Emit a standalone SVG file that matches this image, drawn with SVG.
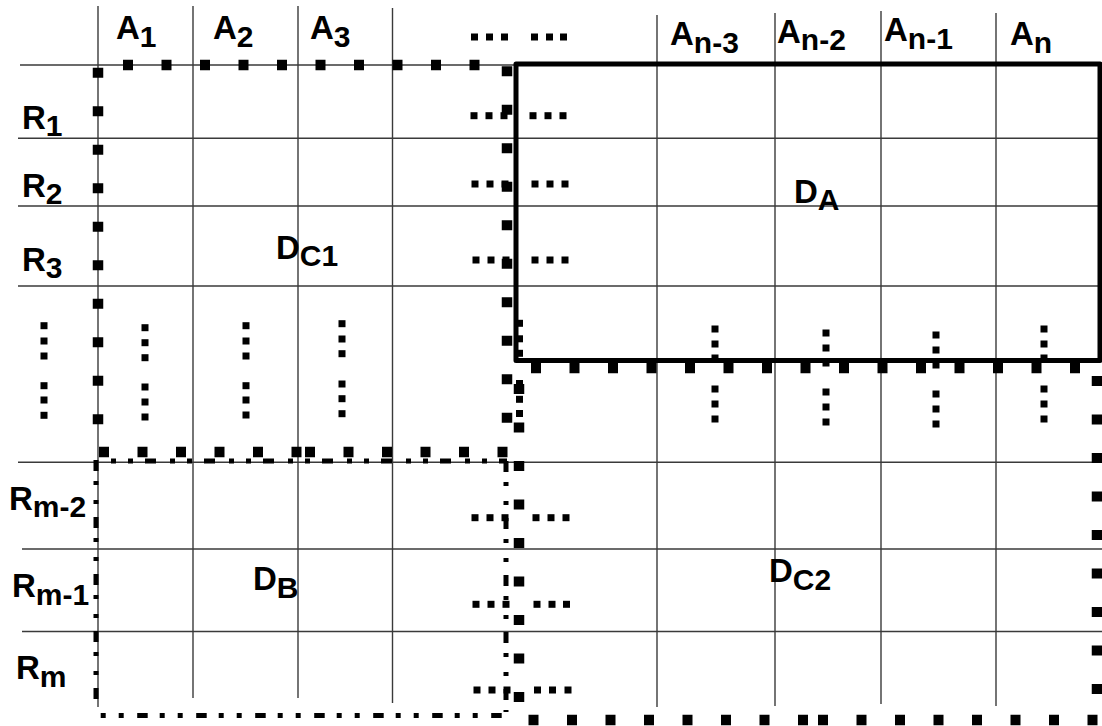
<svg xmlns="http://www.w3.org/2000/svg" xmlns:xlink="http://www.w3.org/1999/xlink" width="1102" height="726" viewBox="0 0 1102 726">
<style>
.grid line{stroke:#3a3a3a;stroke-width:1.4}
.big line{stroke:#000;stroke-width:10.5;stroke-dasharray:10 28.5}
.dd line{stroke:#000;stroke-width:5}
.lb{font-family:"Liberation Sans",Arial,sans-serif;font-weight:bold;font-size:33px;fill:#000}
.sub{font-size:30px}
</style>
<defs><rect id="d" x="-3.5" y="-3.5" width="7" height="7" fill="#000"/></defs>
<rect width="1102" height="726" fill="#fff"/>
<g id="grid" class="grid">
<line x1="20" y1="65" x2="1102" y2="65"/>
<line x1="18" y1="138.3" x2="1102" y2="138.3"/>
<line x1="18" y1="206" x2="1102" y2="206"/>
<line x1="18" y1="286" x2="1102" y2="286"/>
<line x1="18" y1="462.3" x2="1102" y2="462.3"/>
<line x1="22" y1="549" x2="1102" y2="549"/>
<line x1="22" y1="631.5" x2="1102" y2="631.5"/>
<line x1="98" y1="6" x2="98" y2="707"/>
<line x1="193" y1="6" x2="193" y2="698"/>
<line x1="298" y1="6" x2="298" y2="698"/>
<line x1="392.5" y1="8" x2="392.5" y2="703"/>
<line x1="657" y1="15" x2="657" y2="707"/>
<line x1="775" y1="13" x2="775" y2="706"/>
<line x1="881" y1="11" x2="881" y2="704"/>
<line x1="996" y1="13" x2="996" y2="706"/>
</g>
<g id="DB" class="dd">
<line x1="111" y1="461" x2="507" y2="461" stroke-dasharray="5 12 5 12 11 14"/>
<line x1="96" y1="460" x2="96" y2="708" stroke-dasharray="11 10 4 15 4 13"/>
<line x1="100.7" y1="715.5" x2="507" y2="715.5" stroke-dasharray="5 13 5 13.5 10.5 12"/>
<line x1="506" y1="461" x2="506" y2="712" stroke-dasharray="11 10 4 15 4 13"/>
</g>
<g id="DC1" class="big">
<line x1="123" y1="65" x2="480" y2="65"/>
<line x1="98" y1="67.7" x2="98" y2="424.2"/>
<line x1="507" y1="66.3" x2="507" y2="423"/>
<line x1="99" y1="452" x2="301.5" y2="452"/>
<line x1="305" y1="452" x2="507.5" y2="452"/>
</g>
<g id="DC2" class="big">
<line x1="531" y1="368" x2="1080" y2="368"/>
<line x1="519" y1="384" x2="519" y2="702"/>
<line x1="1097" y1="376" x2="1097" y2="694"/>
<line x1="528.5" y1="720" x2="808" y2="720"/>
<line x1="818" y1="720" x2="1097.5" y2="720"/>
</g>
<g id="DA">
<rect x="516" y="64" width="584" height="296.5" fill="none" stroke="#000" stroke-width="5" stroke-linejoin="round"/>
</g>
<g id="ellipses">
<use href="#d" x="474.5" y="37"/><use href="#d" x="489.5" y="37"/><use href="#d" x="504.5" y="37"/>
<use href="#d" x="534.5" y="37"/><use href="#d" x="549.5" y="37"/><use href="#d" x="563.5" y="37"/>
<use href="#d" x="474" y="115.7"/><use href="#d" x="489" y="115.7"/><use href="#d" x="504" y="115.7"/>
<use href="#d" x="533" y="115.7"/><use href="#d" x="548" y="115.7"/><use href="#d" x="563" y="115.7"/>
<use href="#d" x="475" y="184"/><use href="#d" x="490" y="184"/><use href="#d" x="505" y="184"/>
<use href="#d" x="535" y="184"/><use href="#d" x="550" y="184"/><use href="#d" x="565" y="184"/>
<use href="#d" x="476" y="260"/><use href="#d" x="491" y="260"/><use href="#d" x="506" y="260"/>
<use href="#d" x="535" y="260"/><use href="#d" x="550" y="260"/><use href="#d" x="565" y="260"/>
<use href="#d" x="475" y="517.7"/><use href="#d" x="490" y="517.7"/><use href="#d" x="505" y="517.7"/>
<use href="#d" x="536" y="517.7"/><use href="#d" x="551" y="517.7"/><use href="#d" x="566" y="517.7"/>
<use href="#d" x="476" y="604.3"/><use href="#d" x="491" y="604.3"/><use href="#d" x="506" y="604.3"/>
<use href="#d" x="537" y="604.3"/><use href="#d" x="552" y="604.3"/><use href="#d" x="566.5" y="604.3"/>
<use href="#d" x="477" y="690"/><use href="#d" x="492" y="690"/><use href="#d" x="507" y="690"/>
<use href="#d" x="537.5" y="690"/><use href="#d" x="552.5" y="690"/><use href="#d" x="568" y="690"/>
<use href="#d" x="44" y="325.7"/><use href="#d" x="44" y="341"/><use href="#d" x="44" y="356"/>
<use href="#d" x="44" y="385.7"/><use href="#d" x="44" y="400"/><use href="#d" x="44" y="415.3"/>
<use href="#d" x="145" y="327.7"/><use href="#d" x="145" y="342.7"/><use href="#d" x="145" y="357.7"/>
<use href="#d" x="145" y="387"/><use href="#d" x="145" y="402"/><use href="#d" x="145" y="417"/>
<use href="#d" x="246" y="325.7"/><use href="#d" x="246" y="341"/><use href="#d" x="246" y="356"/>
<use href="#d" x="246" y="385.7"/><use href="#d" x="246" y="400"/><use href="#d" x="246" y="415"/>
<use href="#d" x="342" y="323.7"/><use href="#d" x="342" y="339"/><use href="#d" x="342" y="353.7"/>
<use href="#d" x="342" y="384"/><use href="#d" x="342" y="398.7"/><use href="#d" x="342" y="413.7"/>
<use href="#d" x="519.5" y="323.3"/><use href="#d" x="519.5" y="338.8"/><use href="#d" x="519.5" y="353.3"/>
<use href="#d" x="519.5" y="383.5"/><use href="#d" x="519.5" y="399.3"/><use href="#d" x="519.5" y="413.5"/>
<use href="#d" x="715" y="329"/><use href="#d" x="715" y="344"/><use href="#d" x="715" y="358"/>
<use href="#d" x="715" y="389"/><use href="#d" x="715" y="404"/><use href="#d" x="715" y="419"/>
<use href="#d" x="826" y="333"/><use href="#d" x="826" y="348"/><use href="#d" x="826" y="363"/>
<use href="#d" x="826" y="392"/><use href="#d" x="826" y="407"/><use href="#d" x="826" y="422"/>
<use href="#d" x="936" y="335"/><use href="#d" x="936" y="350"/><use href="#d" x="936" y="365"/>
<use href="#d" x="936" y="394"/><use href="#d" x="936" y="409"/><use href="#d" x="936" y="424"/>
<use href="#d" x="1044" y="329"/><use href="#d" x="1044" y="344"/><use href="#d" x="1044" y="358"/>
<use href="#d" x="1044" y="389"/><use href="#d" x="1044" y="404"/><use href="#d" x="1044" y="419"/>
</g>
<g id="labels">
<text class="lb" x="116" y="39">A<tspan class="sub" dy="7.5">1</tspan></text>
<text class="lb" x="213" y="39">A<tspan class="sub" dy="7.5">2</tspan></text>
<text class="lb" x="310" y="39">A<tspan class="sub" dy="7.5">3</tspan></text>
<text class="lb" x="670" y="45">A<tspan class="sub" dy="7.5">n-3</tspan></text>
<text class="lb" x="777" y="42.7">A<tspan class="sub" dy="7.5">n-2</tspan></text>
<text class="lb" x="884" y="41">A<tspan class="sub" dy="7.5">n-1</tspan></text>
<text class="lb" x="1010" y="45">A<tspan class="sub" dy="7.5">n</tspan></text>
<text class="lb" x="22" y="129">R<tspan class="sub" dy="7">1</tspan></text>
<text class="lb" x="22" y="197">R<tspan class="sub" dy="7">2</tspan></text>
<text class="lb" x="22" y="271">R<tspan class="sub" dy="7">3</tspan></text>
<text class="lb" x="9" y="510">R<tspan class="sub" dy="7">m-2</tspan></text>
<text class="lb" x="12" y="597">R<tspan class="sub" dy="8">m-1</tspan></text>
<text class="lb" x="16" y="679">R<tspan class="sub" dy="8">m</tspan></text>
<text class="lb" x="276" y="259">D<tspan class="sub" dy="7">C1</tspan></text>
<text class="lb" x="794" y="203">D<tspan class="sub" dy="7">A</tspan></text>
<text class="lb" x="253" y="590">D<tspan class="sub" dy="8">B</tspan></text>
<text class="lb" x="769" y="582">D<tspan class="sub" dy="8">C2</tspan></text>
</g>
</svg>
